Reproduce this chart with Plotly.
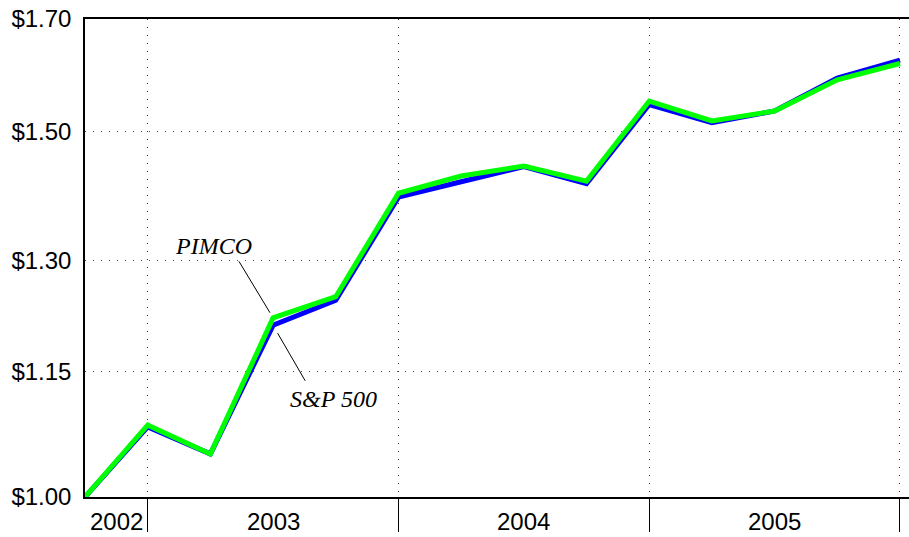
import math
import plotly.graph_objects as go

# Quarter-end dates (growth of $1 invested)
quarters = ["2002-09", "2002-12", "2003-03", "2003-06", "2003-09", "2003-12",
            "2004-03", "2004-06", "2004-09", "2004-12", "2005-03", "2005-06",
            "2005-09", "2005-12"]
pimco = [1.000, 1.083, 1.049, 1.220, 1.249, 1.401, 1.428, 1.444, 1.420,
         1.552, 1.518, 1.535, 1.589, 1.618]
sp500 = [1.000, 1.081, 1.049, 1.210, 1.244, 1.395, 1.419, 1.443, 1.416,
         1.546, 1.515, 1.535, 1.592, 1.624]
years = ["2002", "2003", "2004", "2005"]
ytick_vals = [1.00, 1.15, 1.30, 1.50, 1.70]
ytick_text = ["$1.00", "$1.15", "$1.30", "$1.50", "$1.70"]

xs = list(range(len(quarters)))

# year boundaries (index of each year's last quarter) and label centres
year_end = []
for y in years:
    idx = [i for i, q in enumerate(quarters) if q.startswith(y)]
    year_end.append(idx[-1])
starts = [0] + year_end[:-1]
year_centre = [(a + b) / 2 for a, b in zip(starts, year_end)]

fig = go.Figure()
fig.add_trace(go.Scatter(x=xs, y=sp500, mode="lines", name="S&P 500",
                         line=dict(color="#0000FF", width=5)))
fig.add_trace(go.Scatter(x=xs, y=pimco, mode="lines", name="PIMCO",
                         line=dict(color="#00FF00", width=5)))

grid_dash = "1px,7px"
fig.update_xaxes(range=[0, 13.144], tickvals=year_end, showticklabels=False,
                 ticks="outside", ticklen=33, tickcolor="black", tickwidth=1,
                 showgrid=True, gridcolor="#333333", griddash=grid_dash,
                 gridwidth=1, zeroline=False, showline=True, linecolor="black",
                 linewidth=1.5, mirror=True)
fig.update_yaxes(type="log", range=[0, math.log10(1.70)], tickvals=ytick_vals,
                 ticktext=ytick_text, ticks="", showgrid=True,
                 gridcolor="#555555", griddash=grid_dash, gridwidth=1,
                 zeroline=False, showline=True, linecolor="black", linewidth=1.5,
                 tickfont=dict(family="Liberation Sans, Arial", size=24, color="black"),
                 ticklabelstandoff=7)

for yr, c in zip(years, year_centre):
    fig.add_annotation(x=c, xref="x", y=-0.052, yref="paper", text=yr,
                       showarrow=False, yanchor="middle",
                       font=dict(family="Liberation Sans, Arial", size=24, color="black"))

lab_font = dict(family="Liberation Serif, Times New Roman", size=24, color="black")
fig.add_annotation(x=3, y=math.log10(pimco[3]), text="<i>PIMCO</i>", showarrow=False,
                   xshift=-60, yshift=72, font=lab_font)
fig.add_annotation(x=3, y=math.log10(sp500[3]), text="<i>S&P 500</i>", showarrow=False,
                   xshift=60, yshift=-74, font=lab_font)
fig.add_annotation(x=3, y=math.log10(pimco[3]), text="", showarrow=True, arrowhead=0,
                   arrowwidth=1, arrowcolor="black", ax=-35, ay=-58, standoff=6)
fig.add_annotation(x=3, y=math.log10(sp500[3]), text="", showarrow=True, arrowhead=0,
                   arrowwidth=1, arrowcolor="black", ax=33, ay=57, standoff=9)

fig.update_layout(width=909, height=537, showlegend=False,
                  margin=dict(l=85, r=0, t=19, b=40),
                  plot_bgcolor="white", paper_bgcolor="white")

fig.write_html("out.html", config={"displayModeBar": False},
               post_script="document.body.style.margin='0';document.body.style.overflow='hidden';")
